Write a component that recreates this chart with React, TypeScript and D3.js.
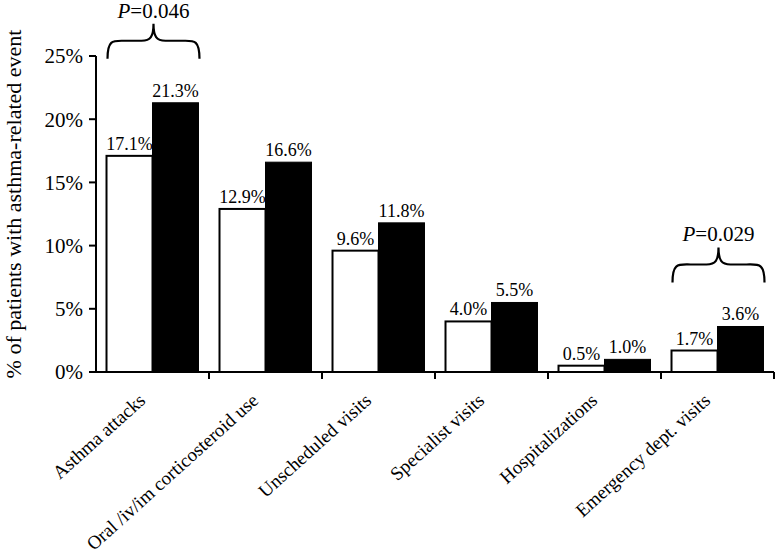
import React from "react";
import * as d3 from "d3";

const categories = [
  "Asthma attacks",
  "Oral /iv/im corticosteroid use",
  "Unscheduled visits",
  "Specialist visits",
  "Hospitalizations",
  "Emergency dept. visits",
];
const seriesWhite = [17.1, 12.9, 9.6, 4.0, 0.5, 1.7];
const seriesBlack = [21.3, 16.6, 11.8, 5.5, 1.0, 3.6];
const yTicks = [0, 5, 10, 15, 20, 25];
const annotIndex = [0, 5];
const annotP = ["0.046", "0.029"];

const W = 778;
const H = 554;
const FONT = "Liberation Serif";

export default function App() {
  const left = 96, right = 774, top = 56, bottom = 372;
  const x = d3.scaleBand<string>().domain(categories).range([left, right]).paddingInner(0.186).paddingOuter(0.093);
  const sub = d3.scaleBand<string>().domain(["w", "b"]).range([0, x.bandwidth()]);
  const y = d3.scaleLinear().domain([0, 25]).range([bottom, top]);
  const boundaries = categories.map((c, i) => left + x.step() * (i + 1));

  const brace = (x0: number, x1: number, yb: number) => {
    const xc = (x0 + x1) / 2;
    const ym = yb - 18;
    const yt = yb - 35;
    return `M${x0},${yb} C${x0},${ym - 2} ${x0 + 6},${ym} ${x0 + 18},${ym} L${xc - 12},${ym} C${xc - 3},${ym} ${xc},${ym - 4} ${xc},${yt} C${xc},${ym - 4} ${xc + 3},${ym} ${xc + 12},${ym} L${x1 - 18},${ym} C${x1 - 6},${ym} ${x1},${ym - 2} ${x1},${yb}`;
  };

  return (
    <svg width={W} height={H} style={{ position: "absolute", left: 0, top: 0, background: "#fff", fontFamily: FONT }}>
      <rect width={W} height={H} fill="#fff" />
      {categories.map((c, i) => {
        const gx = x(c)!;
        const vw = seriesWhite[i];
        const vb = seriesBlack[i];
        return (
          <g key={c}>
            <rect x={gx + sub("w")!} y={y(vw)} width={sub.bandwidth()} height={y(0) - y(vw)} fill="#fff" stroke="#000" strokeWidth={2} />
            <rect x={gx + sub("b")!} y={y(vb)} width={sub.bandwidth()} height={y(0) - y(vb)} fill="#000" stroke="#000" strokeWidth={1} />
            <text x={gx + sub("w")! + sub.bandwidth() / 2} y={y(vw) - 6} fontSize={18} textAnchor="middle">{vw.toFixed(1)}%</text>
            <text x={gx + sub("b")! + sub.bandwidth() / 2} y={y(vb) - 6} fontSize={18} textAnchor="middle">{vb.toFixed(1)}%</text>
          </g>
        );
      })}
      {/* y axis */}
      <line x1={left} x2={left} y1={top} y2={bottom} stroke="#000" strokeWidth={2} />
      {yTicks.map((t) => (
        <g key={t}>
          <line x1={left - 7} x2={left} y1={y(t)} y2={y(t)} stroke="#000" strokeWidth={2} />
          <text x={left - 13} y={y(t)} dy="0.35em" fontSize={21} textAnchor="end">{t}%</text>
        </g>
      ))}
      {/* x axis */}
      <line x1={left} x2={right} y1={bottom} y2={bottom} stroke="#000" strokeWidth={2} />
      {boundaries.map((b, i) => (
        <line key={i} x1={b} x2={b} y1={bottom} y2={bottom + 7} stroke="#000" strokeWidth={2} />
      ))}
      {categories.map((c) => {
        const cx = x(c)! + x.bandwidth() / 2 - 6;
        return (
          <text key={c} transform={`translate(${cx},${bottom + 30}) rotate(-42)`} fontSize={19} textAnchor="end">{c}</text>
        );
      })}
      <text transform={`translate(21,${(top + bottom) / 2 - 10}) rotate(-90)`} fontSize={22} textAnchor="middle">% of patients with asthma-related event</text>
      {annotIndex.map((idx, k) => {
        const c = categories[idx];
        const x0 = x(c)! + 1;
        const x1 = x(c)! + x.bandwidth() + 1;
        const yb = y(Math.max(seriesWhite[idx], seriesBlack[idx])) - 44;
        return (
          <g key={idx}>
            <path d={brace(x0, x1, yb)} fill="none" stroke="#000" strokeWidth={2.2} />
            <text x={(x0 + x1) / 2} y={yb - 41} fontSize={21} textAnchor="middle">
              <tspan fontStyle="italic">P</tspan>={annotP[k]}
            </text>
          </g>
        );
      })}
    </svg>
  );
}
